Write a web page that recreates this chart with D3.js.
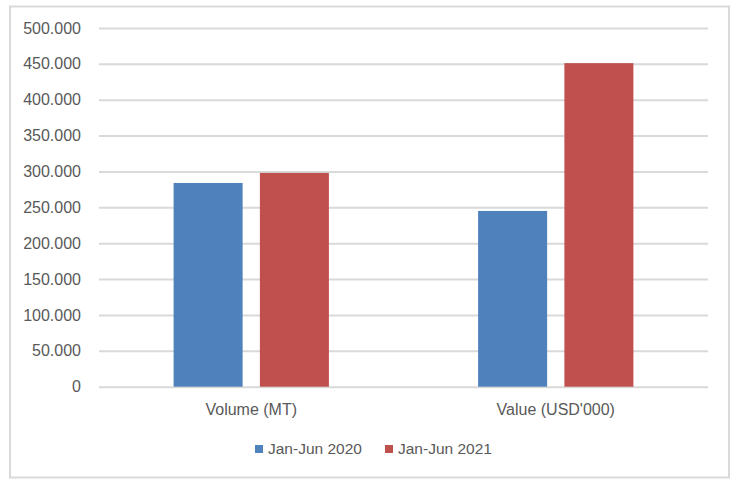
<!DOCTYPE html>
<html>
<head>
<meta charset="utf-8">
<script src="https://cdn.jsdelivr.net/npm/d3@7"></script>
<style>
html,body{margin:0;padding:0;background:#fff;}
svg{display:block;}
text{font-family:"Liberation Sans",Arial,sans-serif;fill:#595959;}
</style>
</head>
<body>
<svg id="chart" width="740" height="486"></svg>
<script>
const categories = ["Volume (MT)", "Value (USD'000)"];
const seriesNames = ["Jan-Jun 2020", "Jan-Jun 2021"];
const series2020 = [284000, 245000];
const series2021 = [298000, 451000];
const tickValues = [0, 50000, 100000, 150000, 200000, 250000, 300000, 350000, 400000, 450000, 500000];
const colors = ["#4f81bd", "#c0504d"];

const seriesValues = [series2020, series2021];
const data = categories.map((c, i) => ({cat: c, vals: seriesNames.map((s, j) => ({s, v: seriesValues[j][i], j}))}));

const svg = d3.select("#chart");
const fmt = d3.formatLocale({decimal: ",", thousands: ".", grouping: [3], currency: ["", ""]}).format(",d");

// outer border
svg.append("rect").attr("x", 10).attr("y", 6.5).attr("width", 719).attr("height", 471)
  .attr("fill", "#fff").attr("stroke", "#d9d9d9").attr("stroke-width", 2);

const plotLeft = 99, plotRight = 708, plotTop = 28, plotBottom = 386.7;
const y = d3.scaleLinear().domain([0, 500000]).range([plotBottom, plotTop]);
const x0 = d3.scaleBand().domain(categories).range([plotLeft, plotRight]).padding(0);
const bw = x0.bandwidth();
const x1 = d3.scaleBand().domain(seriesNames).range([bw * 0.245, bw * 0.755]).paddingInner(0.2);

// gridlines
const yAxis = d3.axisLeft(y).tickValues(tickValues).tickSize(-(plotRight - plotLeft)).tickPadding(18).tickFormat(fmt);
const gy = svg.append("g").attr("transform", `translate(${plotLeft},0)`).call(yAxis);
gy.select(".domain").remove();
gy.selectAll(".tick line").attr("stroke", "#d9d9d9").attr("stroke-width", 2);
gy.selectAll(".tick text").attr("font-size", "16px").attr("fill", "#595959")
  .style("font-family", "'Liberation Sans', Arial, sans-serif");

// bars
const groups = svg.append("g").selectAll("g").data(data).join("g")
  .attr("transform", d => `translate(${x0(d.cat)},0)`);
groups.selectAll("rect").data(d => d.vals).join("rect")
  .attr("x", d => x1(d.s)).attr("width", x1.bandwidth())
  .attr("y", d => y(d.v)).attr("height", d => y(0) - y(d.v))
  .attr("fill", d => colors[d.j]);

// category labels
const xAxis = d3.axisBottom(x0).tickSize(0).tickPadding(17);
const gx = svg.append("g").attr("transform", `translate(0,${plotBottom})`).call(xAxis);
gx.select(".domain").remove();
gx.selectAll(".tick text").attr("font-size", "16px").attr("fill", "#595959")
  .style("font-family", "'Liberation Sans', Arial, sans-serif");

// legend
const legendX = [255, 385];
const lg = svg.append("g").selectAll("g").data(seriesNames).join("g")
  .attr("transform", (d, i) => `translate(${legendX[i]},445)`);
lg.append("rect").attr("width", 8).attr("height", 8).attr("fill", (d, i) => colors[i]);
lg.append("text").attr("x", 13).attr("y", 4).attr("dy", "0.35em").attr("font-size", "15.5px").text(d => d);
</script>
</body>
</html>
